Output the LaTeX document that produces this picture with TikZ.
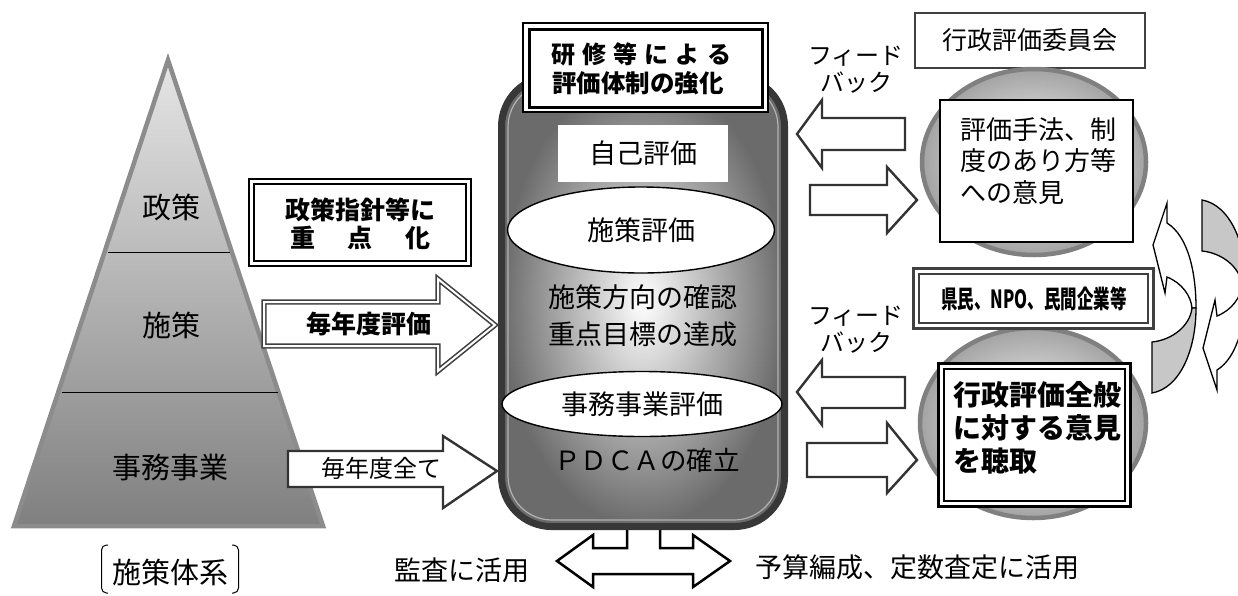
\documentclass[tikz,border=0pt]{standalone}
\usepackage{fontspec}
\newfontfamily\jp{Noto Sans CJK JP}
\usetikzlibrary{shapes.geometric}
\newcommand\fsz[2]{\fontsize{#1}{#2}\selectfont}
\begin{document}
\begin{tikzpicture}[x=1pt,y=-1pt,
  every node/.style={inner sep=0pt, outer sep=0pt, font=\jp},
  blockarrow/.style={draw=black!80, line width=2.4pt, fill=white, line join=miter},
  dblarrow/.style={draw=black!75, double=white, double distance=2pt, line width=1.6pt, line join=miter},
  oval/.style={ellipse, draw, line width=1.4pt, fill=white},
  glowell/.style={draw=black!50, line width=4.5pt, shading=radial, inner color=white, outer color=black!36},
  cyclewhite/.style={line width=1.3pt, fill=white, line join=miter},
  cyclegray/.style={line width=1.3pt, fill=black!22, line join=miter}
]
\useasboundingbox (0,0) rectangle (1238,595);
\fill[white] (0,0) rectangle (1238,595);

% ---------- pyramid ----------
\path[draw=black!45, line width=4.5pt, line join=miter, top color=black!10, bottom color=black!50]
  (168,60) -- (323,526) -- (14,526) -- cycle;
\draw[line width=1pt] (108,252) -- (230,252);
\draw[line width=1pt] (62,392) -- (278,392);
\node (seisaku) at (171,207) {\fsz{29}{29}政策};
\node (shisaku) at (171,325) {\fsz{29}{29}施策};
\node (jimu) at (170,467) {\fsz{29}{29}事務事業};
\node (taikei) at (170,572) {\fsz{29}{29}施策体系};
\draw[line width=1pt, rounded corners=5pt] (108,545) -- (101.5,545) -- (101.5,593) -- (108,593);
\draw[line width=1pt, rounded corners=5pt] (232,545) -- (238.5,545) -- (238.5,593) -- (232,593);

% ---------- left box and arrows ----------
\draw[line width=1.8pt, fill=white] (249,179) rectangle (471,266);
\draw[line width=1.8pt] (254,184) rectangle (466,261);
\node (juten1) at (360,210) {\fsz{25}{25}\bfseries 政策指針等に};
\node (juten2) at (360,238) {\fsz{25}{25}\bfseries\hbox to 140pt{重\hfill 点\hfill 化}};

\draw[dblarrow, fill=white] (264,302) -- (438,302) -- (438,279) -- (495,325) -- (438,371) -- (438,346) -- (264,346) -- cycle;
\node (maihyoka) at (369,324) {\fsz{25}{25}\bfseries 毎年度評価};

\draw[blockarrow] (288,451) -- (443,451) -- (443,436) -- (497,471) -- (443,508) -- (443,487) -- (288,487) -- cycle;
\node (maisubete) at (381,468) {\fsz{24}{24}毎年度全て};

% ---------- bottom T arrow ----------
\draw[line width=2.5pt, fill=white, line join=miter]
  (627,515) -- (627,548) -- (593,548) -- (593,535) -- (557,561) -- (593,587) -- (593,574)
  -- (693,574) -- (693,587) -- (730,561) -- (693,535) -- (693,548) -- (660,548) -- (660,515);
\node (kansa) at (462,570) {\fsz{27}{27}監査に活用};
\node (yosan) at (917,567) {\fsz{27}{27}予算編成、定数査定に活用};

% ---------- center capsule ----------
\draw[line width=7pt, draw=black!78, shading=radial, inner color=white, outer color=black!58, rounded corners=50pt]
  (501.5,76.5) rectangle (784.5,526.5);
\draw[line width=1.2pt, draw=black!30, rounded corners=44pt] (508,83) rectangle (778,520);

\node[fill=white, minimum width=170pt, minimum height=57pt] (jiko) at (643,153) {\fsz{27}{27}自己評価};
\node[oval, minimum width=267pt, minimum height=86pt] (shisakuhyoka) at (641,230) {\fsz{27}{27}施策評価};
\node[align=center, font=\jp\fsz{27}{37}] (kakunin) at (643,316) {施策方向の確認\\重点目標の達成};
\node[oval, minimum width=280pt, minimum height=65pt] (jimuhyoka) at (642,404) {\fsz{27}{27}事務事業評価};
\node (pdca) at (647,460) {\fsz{26.5}{27}ＰＤＣＡの確立};

% ---------- top box ----------
\draw[line width=1.3pt, fill=white] (523,23) rectangle (768,112);
\draw[line width=3pt] (529,29) rectangle (762,107);
\node (kenshu1) at (641,54) {\fsz{24}{24}\bfseries\hbox to 180pt{研\hfill 修\hfill 等\hfill に\hfill よ\hfill る}};
\node (kenshu2) at (638,83) {\fsz{24.5}{24.5}\bfseries 評価体制の強化};

% ---------- feedback arrows ----------
\draw[blockarrow] (905,118) -- (822,118) -- (822,100) -- (797,134) -- (822,168) -- (822,150) -- (905,150) -- cycle;
\draw[blockarrow] (810,185) -- (887,185) -- (887,167) -- (917,200) -- (887,233) -- (887,215) -- (810,215) -- cycle;
\draw[blockarrow] (905,377) -- (822,377) -- (822,360) -- (797,392) -- (822,425) -- (822,408) -- (905,408) -- cycle;
\draw[blockarrow] (807,443) -- (887,443) -- (887,423) -- (917,460) -- (887,493) -- (887,477) -- (807,477) -- cycle;
\node[align=center, font=\jp\fsz{24}{27}] (fb1) at (856,70) {フィード\\バック};
\node[align=center, font=\jp\fsz{24}{27}] (fb2) at (856,330) {フィード\\バック};

% ---------- right side ----------
\node[draw=black!75, line width=1.5pt, fill=white, minimum width=230pt, minimum height=55pt] (iinkai) at (1030,40.5) {\fsz{25}{25}行政評価委員会};

\path[glowell] (1034,162) ellipse [x radius=112pt, y radius=93pt];
\node[draw, line width=1.8pt, fill=white, minimum width=193pt, minimum height=142pt] (ikenbox1) at (1036.5,171) {};
\node[anchor=west, align=left, font=\jp\fsz{26}{31.5}] (iken1) at (960,161) {評価手法、制\\度のあり方等\\への意見};

\path[glowell] (1033,423) ellipse [x radius=113pt, y radius=95pt];
\draw[line width=3.2pt, draw=black!75, fill=white] (913.5,268.5) rectangle (1153.5,328.5);
\draw[line width=1.5pt, draw=black!75] (919,274) rectangle (1148,323);
\node (kenmin) at (1034,299) {\fsz{25}{25}\bfseries\scalebox{0.66}[1]{県民、NPO、民間企業等}};

\draw[line width=3.2pt, fill=white] (938.5,363.5) rectangle (1130.5,506.5);
\draw[line width=1.6pt] (944,369) rectangle (1125,501);
\node[anchor=west, align=left, font=\jp\bfseries\fsz{28}{33}] (iken2) at (953,428) {行政評価全般\\に対する意見\\を聴取};

% ---------- cycle arrows ----------
\draw[cyclewhite] (1153,245) -- (1167,203) -- (1167,223)
  .. controls (1188,236) and (1196,272) .. (1196,308) -- (1192,308)
  .. controls (1191,296) and (1182,283) .. (1167,277) -- (1165,293) -- cycle;
\draw[cyclegray] (1196,308) .. controls (1196,350) and (1180,388) .. (1152,393) -- (1152,342)
  .. controls (1172,340) and (1190,326) .. (1192,308) -- cycle;
\draw[cyclewhite] (1203,348) -- (1217,390) -- (1217,370)
  .. controls (1238,357) and (1246,321) .. (1246,285) -- (1242,285)
  .. controls (1241,297) and (1232,310) .. (1217,316) -- (1215,300) -- cycle;
\draw[cyclegray] (1246,285) .. controls (1246,243) and (1230,205) .. (1202,200) -- (1202,251)
  .. controls (1222,253) and (1240,267) .. (1242,285) -- cycle;
\end{tikzpicture}
\end{document}
